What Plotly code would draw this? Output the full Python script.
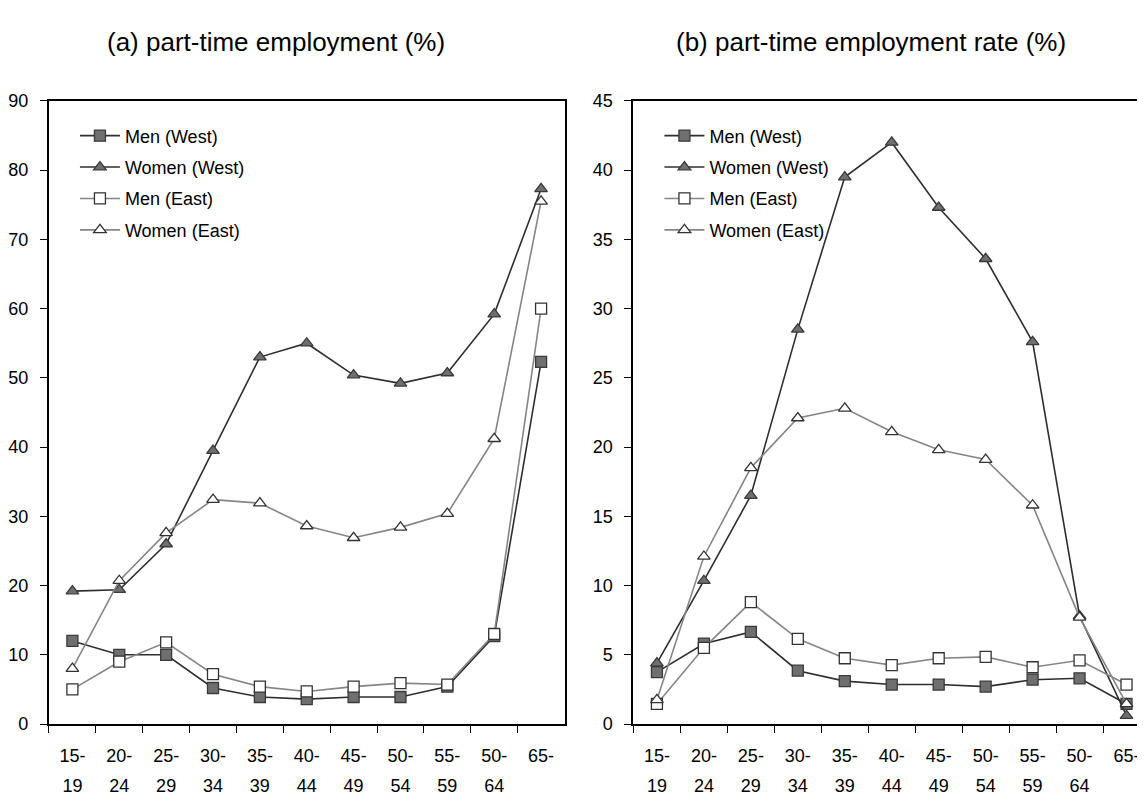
import plotly.graph_objects as go

categories = ["15-19", "20-24", "25-29", "30-34", "35-39", "40-44",
              "45-49", "50-54", "55-59", "50-64", "65-"]
tick_line1 = ["15-", "20-", "25-", "30-", "35-", "40-", "45-", "50-", "55-", "50-", "65-"]
tick_line2 = ["19", "24", "29", "34", "39", "44", "49", "54", "59", "64", ""]

series_names = ["Men (West)", "Women (West)", "Men (East)", "Women (East)"]

# (a) part-time employment (%)
a_men_west = [12.0, 10.0, 10.0, 5.2, 3.9, 3.6, 3.9, 3.9, 5.4, 12.7, 52.3]
a_women_west = [19.2, 19.4, 26.0, 39.5, 53.0, 55.0, 50.4, 49.2, 50.7, 59.2, 77.3]
a_men_east = [5.0, 9.0, 11.8, 7.2, 5.4, 4.7, 5.4, 5.9, 5.7, 13.0, 60.0]
a_women_east = [8.0, 20.7, 27.6, 32.4, 31.9, 28.6, 26.9, 28.4, 30.4, 41.2, 75.5]

# (b) part-time employment rate (%)
b_men_west = [3.75, 5.8, 6.65, 3.85, 3.1, 2.85, 2.85, 2.7, 3.2, 3.3, 1.45]
b_women_west = [4.4, 10.35, 16.5, 28.5, 39.5, 42.0, 37.3, 33.6, 27.6, 7.8, 0.6]
b_men_east = [1.45, 5.5, 8.8, 6.15, 4.75, 4.25, 4.75, 4.85, 4.1, 4.6, 2.85]
b_women_east = [1.75, 12.1, 18.5, 22.1, 22.8, 21.1, 19.8, 19.1, 15.8, 7.7, 1.45]

titles = ["(a) part-time employment (%)", "(b) part-time employment rate (%)"]

DARK = "#2e2e2e"
LIGHT = "#858585"
FILL = "#6f6f6f"
styles = {
    "Men (West)": dict(line=DARK, symbol="square", fill=FILL, edge="#3a3a3a"),
    "Women (West)": dict(line=DARK, symbol="triangle-up", fill=FILL, edge="#3a3a3a"),
    "Men (East)": dict(line=LIGHT, symbol="square", fill="white", edge="#333333"),
    "Women (East)": dict(line=LIGHT, symbol="triangle-up", fill="white", edge="#333333"),
}

W, H = 1145, 805
OFF = 8  # page body margin in front of the figure
FAM = "Liberation Sans Narrow, Arial Narrow, Liberation Sans, Arial"
TICKFONT = dict(family=FAM, size=18, color="black")
LEGFONT = dict(family=FAM, size=18, color="black")

fig = go.Figure()

panels = [
    (dict(zip(series_names, [a_men_west, a_women_west, a_men_east, a_women_east])), "x", "y", "legend"),
    (dict(zip(series_names, [b_men_west, b_women_west, b_men_east, b_women_east])), "x2", "y2", "legend2"),
]
for data, xa, ya, lg in panels:
    for name in series_names:
        st = styles[name]
        fig.add_trace(go.Scatter(
            x=categories, y=data[name], name=name, mode="lines+markers",
            xaxis=xa, yaxis=ya, legend=lg, legendgroup=lg + name,
            line=dict(color=st["line"], width=1.6),
            marker=dict(symbol=st["symbol"], size=11, color=st["fill"],
                        line=dict(color=st["edge"], width=1.3)),
            cliponaxis=False,
        ))

# screen positions (px) of the plot frames, converted to figure fractions
y0 = 1 - (732 - OFF) / H
y1 = 1 - (93 - OFF) / H
xa_dom = [(48 - OFF) / W, (564 - OFF) / W]
xb_dom = [(633 - OFF) / W, (1150 - OFF) / W]

common_x = dict(type="category", categoryorder="array", categoryarray=categories,
                showline=True, linecolor="black", linewidth=2, mirror=True,
                ticks="outside", ticklen=7, tickcolor="black", tickwidth=1,
                tickson="boundaries", showgrid=False, zeroline=False,
                tickmode="array", tickvals=categories, ticktext=tick_line1,
                tickfont=TICKFONT, ticklabelstandoff=14, fixedrange=True,
                range=[-0.5, 10.5])
common_y = dict(showline=True, linecolor="black", linewidth=2,
                ticks="outside", ticklen=7, tickcolor="black", tickwidth=1,
                showgrid=False, zeroline=False, tickfont=TICKFONT,
                ticklabelstandoff=8, domain=[y0, y1], fixedrange=True)

second_line = dict(type="category", categoryorder="array", categoryarray=categories,
                   showline=False, ticks="", showgrid=False, zeroline=False,
                   tickmode="array", tickvals=categories, ticktext=tick_line2,
                   tickfont=TICKFONT, ticklabelstandoff=49, fixedrange=True,
                   range=[-0.5, 10.5])

fig.update_layout(
    width=W, height=H,
    margin=dict(l=0, r=0, t=0, b=0),
    paper_bgcolor="white", plot_bgcolor="white",
    xaxis=dict(**common_x, domain=xa_dom, anchor="y"),
    yaxis=dict(**common_y, range=[0, 90], dtick=10, mirror=True, anchor="x"),
    xaxis2=dict(**common_x, domain=xb_dom, anchor="y2"),
    yaxis2=dict(**common_y, range=[0, 45], dtick=5, mirror=False, anchor="x2"),
    xaxis3=dict(**second_line, domain=xa_dom, anchor="y", overlaying="x"),
    xaxis4=dict(**second_line, domain=xb_dom, anchor="y2", overlaying="x2"),
    legend=dict(x=66 / W, y=1 - 102 / H, xanchor="left", yanchor="top",
                font=LEGFONT, bgcolor="rgba(0,0,0,0)", tracegroupgap=5, itemwidth=40),
    legend2=dict(x=651 / W, y=1 - 102 / H, xanchor="left", yanchor="top",
                 font=LEGFONT, bgcolor="rgba(0,0,0,0)", tracegroupgap=5, itemwidth=40),
    showlegend=True,
)

# empty traces on the overlay axes so that they render their tick labels
for xa, ya in (("x3", "y"), ("x4", "y2")):
    fig.add_trace(go.Scatter(x=categories, y=[None] * len(categories), xaxis=xa, yaxis=ya,
                             showlegend=False, hoverinfo="skip", mode="lines"))

title_pos = [(275 - OFF) / W, (871 - OFF) / W]
for t, tx in zip(titles, title_pos):
    fig.add_annotation(text=t, x=tx, y=1 - (33 - OFF) / H, xref="paper", yref="paper",
                       showarrow=False, xanchor="center", yanchor="middle",
                       font=dict(family="Liberation Sans, Arial", size=26, color="black"))

fig.write_html("out.html")
